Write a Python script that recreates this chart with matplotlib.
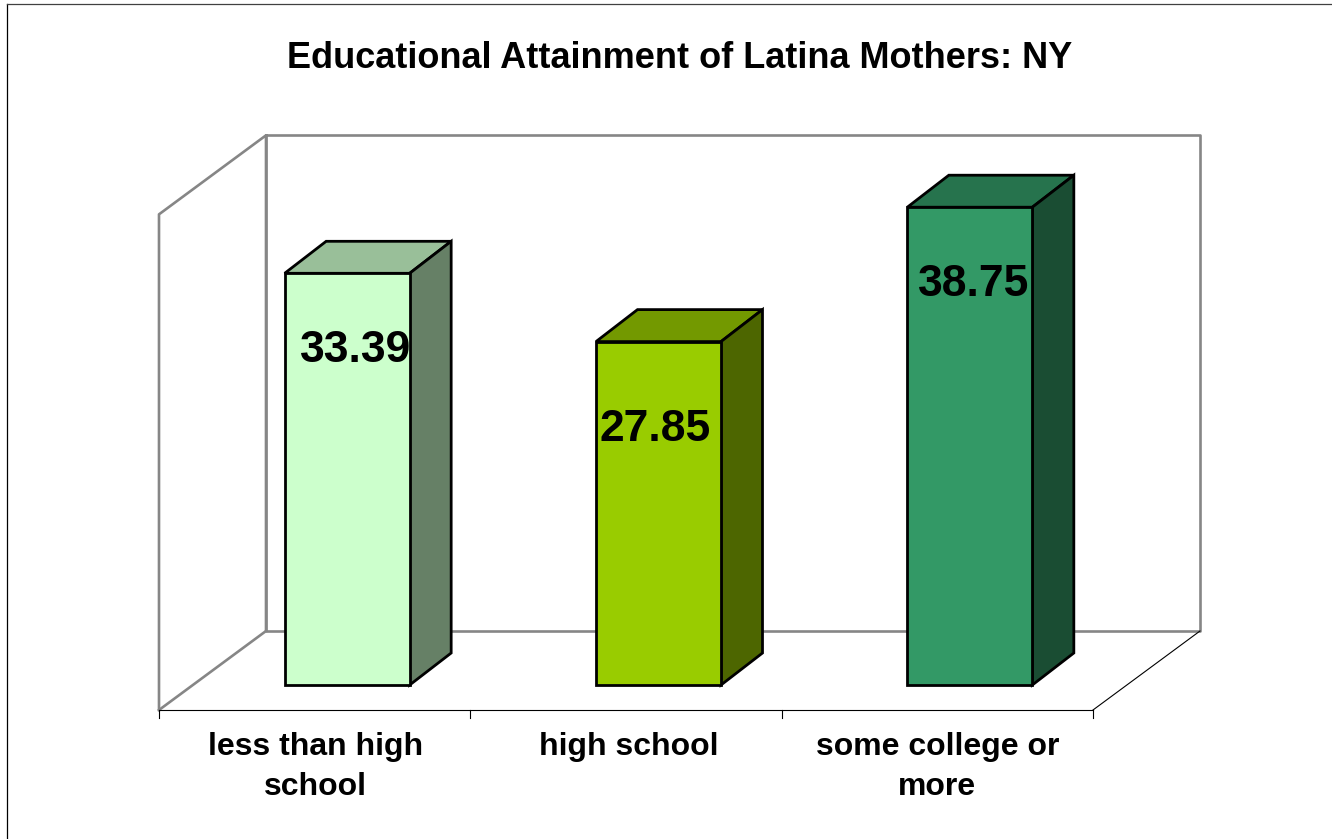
import matplotlib
matplotlib.use('Agg')
import matplotlib.pyplot as plt
from matplotlib.colors import to_rgb
from matplotlib.patches import Polygon

title = "Educational Attainment of Latina Mothers: NY"
categories = ["less than high\nschool", "high school", "some college or\nmore"]
values = [33.39, 27.85, 38.75]
colors = ['#CCFFCC', '#99CC00', '#339966']

W, H = 1332, 839
# pixels per category / per percent on the front plane
PX_X = 311.33
PX_Y = 12.33
LEFT, BASE = 159, 710

def shade(color, f):
    return tuple(c * f for c in to_rgb(color))

fig = plt.figure(figsize=(W / 100, H / 100), dpi=100)
ax = fig.add_axes([0, 0, 1, 1])
ax.set_xlim(-LEFT / PX_X - 0.5, (W - LEFT) / PX_X - 0.5)
ax.set_ylim(-(H - BASE) / PX_Y, BASE / PX_Y)
ax.axis('off')

plt.rcParams['font.family'] = ['Liberation Sans', 'DejaVu Sans']

# depth of the box in data units
dx = 107 / PX_X
dy = 79 / PX_Y
x0, x1 = -0.5, 2.5
top = 40.2
gray = '#868686'

def line(xs, ys, color=gray, lw=1.9, z=1):
    ax.plot(xs, ys, color=color, lw=lw, zorder=z, solid_capstyle='projecting', clip_on=False)

# back wall, side wall, floor
line([x0 + dx, x1 + dx, x1 + dx, x0 + dx, x0 + dx], [top + dy, top + dy, dy, dy, top + dy])
line([x0, x0, x0 + dx, x0 + dx], [0, top, top + dy, dy])
line([x0, x0 + dx], [0, dy])
line([x1, x1 + dx], [0, dy], color='black', lw=0.8)
line([x0, x1], [0, 0], color='black', lw=0.8, z=2)
for t in [0, 1, 2, 3]:
    line([x0 + t, x0 + t], [0, -8 / PX_Y], color='black', lw=0.8, z=2)

# bars
bar_w = 125 / PX_X
off_x = 32.5 / PX_X
off_y = 25 / PX_Y
bdx = 41.5 / PX_X
bdy = 32 / PX_Y
label_dy = [77, 88, 77]
label_dx = [8.5, -3.5, 3.5]
for i, (v, c) in enumerate(zip(values, colors)):
    l = i + off_x - bar_w / 2
    r = l + bar_w
    b = off_y
    t = off_y + v
    kw = dict(edgecolor='black', lw=2.0, joinstyle='miter', zorder=3)
    ax.add_patch(Polygon([(l, t), (r, t), (r + bdx, t + bdy), (l + bdx, t + bdy)],
                         facecolor=shade(c, 0.75), **kw))
    ax.add_patch(Polygon([(r, b), (r + bdx, b + bdy), (r + bdx, t + bdy), (r, t)],
                         facecolor=shade(c, 0.5), **kw))
    ax.add_patch(Polygon([(l, b), (r, b), (r, t), (l, t)], facecolor=c, **kw))
    ax.text(i + off_x + label_dx[i] / PX_X, t - label_dy[i] / PX_Y, f"{v:.2f}",
            fontsize=32, fontweight='bold', ha='center', va='center',
            family=['Liberation Sans', 'DejaVu Sans'], zorder=4)

label_shift = [1, 3, 0]
for i, cat in enumerate(categories):
    ax.text(i + label_shift[i] / PX_X, -(732.5 - BASE) / PX_Y, cat, fontsize=23, fontweight='bold', ha='center', va='top',
            linespacing=1.42, family=['Liberation Sans', 'DejaVu Sans'], zorder=4)

ax.text((679.5 - LEFT) / PX_X - 0.5, (BASE - 58) / PX_Y, title, fontsize=26, fontweight='bold', ha='center', va='center',
        family=['Liberation Sans', 'DejaVu Sans'], transform=ax.transData)

# chart area border, only the top and left show in the crop
ax.plot([7 / PX_X - LEFT / PX_X - 0.5] * 2, [-(H - BASE) / PX_Y, (BASE - 4) / PX_Y], color='black', lw=0.9, clip_on=False)
ax.plot([7 / PX_X - LEFT / PX_X - 0.5, (W - LEFT) / PX_X - 0.5], [(BASE - 4) / PX_Y] * 2, color='#404040', lw=0.9, clip_on=False)

fig.savefig('out.png', dpi=100)
